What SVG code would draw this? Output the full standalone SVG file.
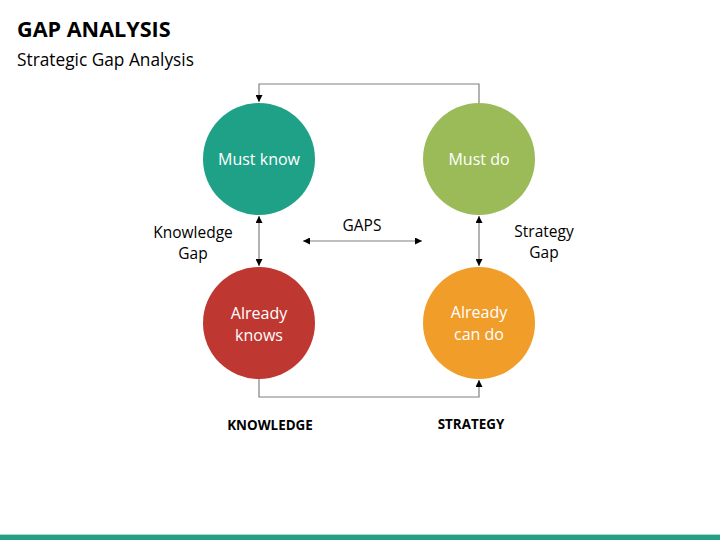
<svg xmlns="http://www.w3.org/2000/svg" width="720" height="540" viewBox="0 0 720 540">
<defs>
<style>
.t{font-family:"Open Sans","Liberation Sans",sans-serif;}
.c{font-family:"Open Sans","Liberation Sans",sans-serif;font-size:16px;fill:#fff;text-anchor:middle;}
.l{font-family:"Open Sans","Liberation Sans",sans-serif;font-size:15.5px;fill:#000;text-anchor:middle;}
.b{font-family:"Open Sans","Liberation Sans",sans-serif;font-size:13.4px;font-weight:bold;fill:#000;text-anchor:middle;}
.ln{fill:none;stroke:#808080;stroke-width:1.2;}
</style>
<marker id="ah" viewBox="0 0 10 10" refX="10" refY="5" markerWidth="7" markerHeight="7" markerUnits="userSpaceOnUse" orient="auto-start-reverse">
<path d="M0,0 L10,5 L0,10 z" fill="#000"/>
</marker>
</defs>
<rect width="720" height="540" fill="#fff"/>
<text class="t" x="17" y="37" font-size="21.6" font-weight="bold" fill="#000">GAP ANALYSIS</text>
<text class="t" x="17" y="66" font-size="17.3" fill="#000">Strategic Gap Analysis</text>
<g id="connectors">
<path class="ln" d="M479,103 V84 H259 V102" marker-end="url(#ah)"/>
<path class="ln" d="M259,379 V397 H479 V380" marker-end="url(#ah)"/>
<path class="ln" d="M259,216 V266" marker-start="url(#ah)" marker-end="url(#ah)"/>
<path class="ln" d="M479,216 V266" marker-start="url(#ah)" marker-end="url(#ah)"/>
<path class="ln" d="M303,241 H422" marker-start="url(#ah)" marker-end="url(#ah)"/>
</g>
<g id="must-know">
<circle cx="259" cy="159" r="56" fill="#1FA187"/>
<text class="c" x="259" y="165">Must know</text>
</g>
<g id="must-do">
<circle cx="479" cy="159" r="56" fill="#9BBB59"/>
<text class="c" x="479" y="165">Must do</text>
</g>
<g id="already-knows">
<circle cx="259" cy="323" r="56" fill="#BE3730"/>
<text class="c" x="259" y="319">Already</text>
<text class="c" x="259" y="341">knows</text>
</g>
<g id="already-can-do">
<circle cx="479" cy="323" r="56" fill="#F09D2A"/>
<text class="c" x="479" y="318">Already</text>
<text class="c" x="479" y="340">can do</text>
</g>
<g id="labels">
<text class="l" x="193" y="238">Knowledge</text>
<text class="l" x="193" y="259">Gap</text>
<text class="l" x="362" y="231">GAPS</text>
<text class="l" x="544" y="237">Strategy</text>
<text class="l" x="544" y="258">Gap</text>
<text class="b" x="270" y="430">KNOWLEDGE</text>
<text class="b" x="471" y="429">STRATEGY</text>
</g>
<rect x="0" y="534" width="720" height="1" fill="#A8DCCF"/>
<rect x="0" y="535" width="720" height="5" fill="#26A085"/>
</svg>
